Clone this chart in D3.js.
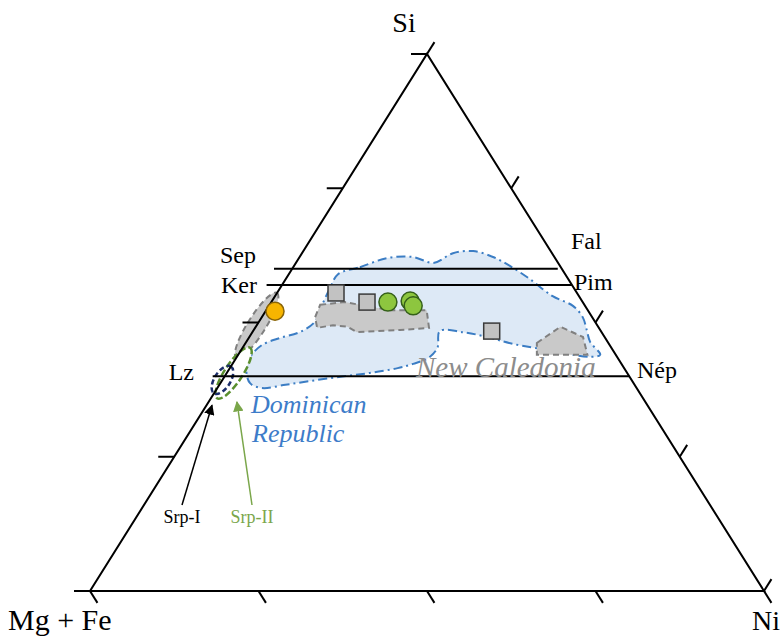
<!DOCTYPE html>
<html lang="en">
<head>
<meta charset="UTF-8">
<title>Si - (Mg+Fe) - Ni ternary</title>
<style>
  body { margin: 0; background: #fff; }
  text { font-family: "Liberation Serif", "DejaVu Serif", serif; }
</style>
</head>
<body>
<script src="https://cdn.jsdelivr.net/npm/d3@7/dist/d3.min.js"></script>
<script>
const width = 781;
const height = 637;

// compositions are [Ni %, Si %], Mg+Fe is the rest
const tickValues = [0, 25, 50, 75, 100];

const phaseNamesLeft = ["Sep", "Ker", "Lz"];
const phaseNamesRight = ["Fal", "Pim", "Nép"];
const phaseSi = [60, 57, 40];
const phaseNiStart = [-2.7, -2.3, -1.8];
const phaseNiEnd = [39.4, 43, 60];

const orangeSamples = [[1.4, 52.1]];
const greenSamples = [[17.3, 53.8], [20.5, 54.0], [21.4, 53.1]];
const graySamples = [[8.75, 55.5], [14.2, 53.8], [35.4, 48.4]];

// Dominican Republic field (blue)
const domField = [
  [7.3, 59.0], [9.9, 60.3], [13.1, 62.0], [16.8, 62.2], [20.4, 61.1], [22.4, 62.9],
  [25.2, 63.3], [28.7, 62.2], [32.1, 60.5], [36.2, 58.1], [41.2, 54.9], [45.1, 53.1],
  [47.6, 51.0], [49.4, 48.6], [51.0, 46.4], [53.7, 44.0], [52.4, 43.6], [46.4, 44.7],
  [39.8, 46.0], [35.3, 47.3], [31.2, 48.2], [27.7, 48.4], [28.9, 45.3], [28.5, 43.4],
  [26.8, 42.3], [24.9, 41.5], [21.2, 40.6], [17.2, 39.9], [13.1, 39.1], [9.8, 38.4],
  [6.6, 37.8], [4.4, 38.7], [2.6, 41.2], [2.0, 43.6], [2.6, 45.8], [4.6, 47.1],
  [7.0, 48.2], [8.3, 50.1], [7.8, 53.3], [7.4, 56.4]
];

// New Caledonia fields (gray)
const ncFieldA = [
  [7.5, 53.3], [10.9, 53.8], [14.3, 53.1], [18.4, 52.3], [23.8, 52.3], [25.8, 49.0],
  [21.7, 48.6], [15.5, 48.2], [13.6, 49.2], [11.3, 49.5], [9.2, 49.0], [7.9, 51.0]
];
const ncFieldB = [[43.2, 46.2], [45.2, 49.2], [49.5, 47.3], [51.8, 44.0], [44.3, 44.0]];

// elongated fields along the Si - (Mg+Fe) side: [start, end]
const ncLzField = [[0, 43.4], [0, 55.5]];
const srp2Field = [[0.9, 35.9], [1.1, 45.3]];
const srp1Field = [[0, 36.8], [0, 41.8]];

const arrowTips = [[0.8, 34.6], [4.2, 35.2]];

const x = d3.scaleLinear().domain([0, 100]).range([90, 764]);
const y = d3.scaleLinear().domain([0, 100]).range([591, 54]);
const proj = d => [x(d[0] + d[1] / 2), y(d[1])];

const svg = d3.select("body").append("svg")
  .attr("width", width)
  .attr("height", height);

const defs = svg.append("defs");
[["arrBlack", "#000"], ["arrGreen", "#7aa64a"]].forEach(a => {
  defs.append("marker")
    .attr("id", a[0])
    .attr("viewBox", "0 0 10 10")
    .attr("refX", 9).attr("refY", 5)
    .attr("markerWidth", 7).attr("markerHeight", 7)
    .attr("orient", "auto")
    .append("path")
    .attr("d", "M0,0L10,5L0,10z")
    .attr("fill", a[1]);
});

const blob = d3.line().curve(d3.curveCatmullRomClosed.alpha(0.5));
const poly = d3.line().curve(d3.curveLinearClosed);

svg.append("path")
  .attr("d", blob(domField.map(proj)))
  .attr("fill", "#dde9f6")
  .attr("stroke", "#3b7dc4")
  .attr("stroke-width", 2)
  .attr("stroke-dasharray", "9,4,2,4");

svg.selectAll(".nc")
  .data([ncFieldA, ncFieldB])
  .enter().append("path")
  .attr("d", d => poly(d.map(proj)))
  .attr("fill", "#c9c9c9")
  .attr("stroke", "#808080")
  .attr("stroke-width", 2)
  .attr("stroke-dasharray", "6,4");

function ellipse(ends, halfWidth) {
  const a = proj(ends[0]), b = proj(ends[1]);
  const cx = (a[0] + b[0]) / 2, cy = (a[1] + b[1]) / 2;
  const rx = Math.hypot(b[0] - a[0], b[1] - a[1]) / 2;
  const ang = Math.atan2(b[1] - a[1], b[0] - a[0]) * 180 / Math.PI;
  return svg.append("ellipse")
    .attr("cx", cx).attr("cy", cy)
    .attr("rx", rx).attr("ry", halfWidth)
    .attr("transform", "rotate(" + ang + "," + cx + "," + cy + ")");
}

ellipse(ncLzField, 9)
  .attr("fill", "#c9c9c9").attr("stroke", "#808080")
  .attr("stroke-width", 2).attr("stroke-dasharray", "6,4");
ellipse(srp2Field, 9)
  .attr("fill", "#fff").attr("stroke", "#5a8f2e")
  .attr("stroke-width", 2.5).attr("stroke-dasharray", "7,3");
ellipse(srp1Field, 8)
  .attr("fill", "none").attr("stroke", "#1b2d6b")
  .attr("stroke-width", 2.5).attr("stroke-dasharray", "5,3");

// triangle
const corners = [[0, 0], [100, 0], [0, 100]];
svg.append("path")
  .attr("d", poly(corners.map(proj)))
  .attr("fill", "none")
  .attr("stroke", "#000")
  .attr("stroke-width", 2);

// ticks
const dirR = [337 / 634, 537 / 634];
const tickSets = [
  { pts: tickValues.map(t => [t, 0]), dx: dirR[0] * 14, dy: dirR[1] * 14 },
  { pts: tickValues.map(t => [0, t]), dx: -16, dy: 0 },
  { pts: tickValues.map(t => [100 - t, t]), dx: dirR[0] * 14, dy: -dirR[1] * 14 }
];
tickSets.forEach(s => {
  svg.append("g").selectAll("line")
    .data(s.pts.map(proj))
    .enter().append("line")
    .attr("x1", d => d[0]).attr("y1", d => d[1])
    .attr("x2", d => d[0] + s.dx).attr("y2", d => d[1] + s.dy)
    .attr("stroke", "#000").attr("stroke-width", 2);
});

// phase lines
svg.append("g").selectAll("line")
  .data(phaseSi)
  .enter().append("line")
  .attr("x1", (d, i) => proj([phaseNiStart[i], d])[0])
  .attr("x2", (d, i) => proj([phaseNiEnd[i], d])[0])
  .attr("y1", d => y(d)).attr("y2", d => y(d))
  .attr("stroke", "#000").attr("stroke-width", 2);

const leftLabelPos = [[256, 263], [257, 293], [194, 380]];
const rightLabelPos = [[571, 249], [574, 290], [637, 378]];
svg.append("g").selectAll("text")
  .data(phaseNamesLeft)
  .enter().append("text")
  .attr("x", (d, i) => leftLabelPos[i][0])
  .attr("y", (d, i) => leftLabelPos[i][1])
  .attr("text-anchor", "end")
  .attr("font-size", 24)
  .text(d => d);
svg.append("g").selectAll("text")
  .data(phaseNamesRight)
  .enter().append("text")
  .attr("x", (d, i) => rightLabelPos[i][0])
  .attr("y", (d, i) => rightLabelPos[i][1])
  .attr("font-size", 24)
  .text(d => d);

// samples
svg.append("g").selectAll("rect")
  .data(graySamples.map(proj))
  .enter().append("rect")
  .attr("x", d => d[0] - 8).attr("y", d => d[1] - 8)
  .attr("width", 16).attr("height", 16)
  .attr("fill", "#c2c2c2").attr("stroke", "#3a3a3a").attr("stroke-width", 1.5);
svg.append("g").selectAll("circle")
  .data(greenSamples.map(proj))
  .enter().append("circle")
  .attr("cx", d => d[0]).attr("cy", d => d[1]).attr("r", 9)
  .attr("fill", "#8dc63f").attr("stroke", "#35601a").attr("stroke-width", 1.5);
svg.append("g").selectAll("circle")
  .data(orangeSamples.map(proj))
  .enter().append("circle")
  .attr("cx", d => d[0]).attr("cy", d => d[1]).attr("r", 9)
  .attr("fill", "#f7b500").attr("stroke", "#8a6508").attr("stroke-width", 1.5);

// field names
svg.append("text")
  .attr("x", 416).attr("y", 377)
  .attr("font-size", 29).attr("font-style", "italic")
  .attr("fill", "#8c8c8c")
  .text("New Caledonia");
svg.append("text")
  .attr("x", 251).attr("y", 413)
  .attr("font-size", 26).attr("font-style", "italic")
  .attr("fill", "#3d7cc9")
  .text("Dominican");
svg.append("text")
  .attr("x", 252).attr("y", 442)
  .attr("font-size", 26).attr("font-style", "italic")
  .attr("fill", "#3d7cc9")
  .text("Republic");

// Srp labels and arrows
const srpLabels = ["Srp-I", "Srp-II"];
const srpColors = ["#000", "#7aa64a"];
const srpTails = [[182, 505], [252, 505]];
svg.append("g").selectAll("line")
  .data(arrowTips.map(proj))
  .enter().append("line")
  .attr("x1", (d, i) => srpTails[i][0]).attr("y1", (d, i) => srpTails[i][1])
  .attr("x2", d => d[0]).attr("y2", d => d[1])
  .attr("stroke", (d, i) => srpColors[i]).attr("stroke-width", 1.5)
  .attr("marker-end", (d, i) => i ? "url(#arrGreen)" : "url(#arrBlack)");
svg.append("g").selectAll("text")
  .data(srpLabels)
  .enter().append("text")
  .attr("x", (d, i) => srpTails[i][0]).attr("y", 523)
  .attr("text-anchor", "middle")
  .attr("font-size", 18)
  .attr("fill", (d, i) => srpColors[i])
  .text(d => d);

// corner labels
svg.append("text").attr("x", 404).attr("y", 32)
  .attr("text-anchor", "middle").attr("font-size", 28).text("Si");
svg.append("text").attr("x", 8).attr("y", 630)
  .attr("font-size", 30).text("Mg + Fe");
svg.append("text").attr("x", 752).attr("y", 630)
  .attr("font-size", 28).text("Ni");
</script>
</body>
</html>
